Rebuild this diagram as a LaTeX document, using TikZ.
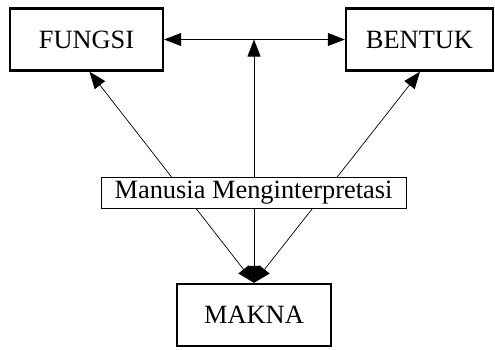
\documentclass[tikz,border=0pt]{standalone}
\usepackage{fontspec}
\setmainfont{Liberation Serif}
\usetikzlibrary{arrows.meta}
\begin{document}
\begin{tikzpicture}[x=1pt,y=-1pt,
  bigbox/.style={draw,line width=2.4pt,minimum height=62pt,inner sep=0pt,font=\fontsize{26.4}{30}\selectfont},
  labelbox/.style={draw,fill=white,line width=0.8pt,minimum width=305pt,minimum height=31pt,inner sep=0pt,font=\fontsize{26.4}{30}\selectfont},
  conn/.style={line width=0.7pt,{Triangle[length=17pt,width=13pt]}-{Triangle[length=17pt,width=13pt]}}]
\useasboundingbox (0,0) rectangle (495,349);
\node[bigbox,minimum width=153pt] (fungsi) at (86.5,39.5) {FUNGSI};
\node[bigbox,minimum width=147pt] (bentuk) at (419.5,39.5) {BENTUK};
\node[bigbox,minimum width=154pt] (makna) at (254,315) {MAKNA};
\coordinate (mid) at (makna.north |- fungsi.east);
\draw[conn] (fungsi.east) -- (bentuk.west);
\draw[conn] (makna.north) -- ([xshift=3pt]fungsi.south);
\draw[conn] (makna.north) -- ([xshift=0.5pt]bentuk.south);
\draw[conn] (makna.north) -- (mid);
\node[labelbox] (label) at (253.5,192.5) {Manusia Menginterpretasi};
\end{tikzpicture}
\end{document}
